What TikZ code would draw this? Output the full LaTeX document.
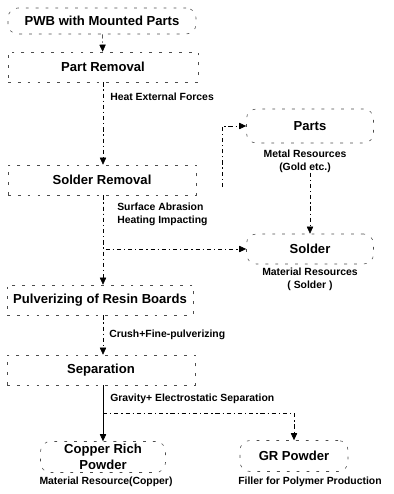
\documentclass[tikz,border=0pt]{standalone}
\usepackage{fontspec}
\setmainfont{Liberation Sans}
\usepackage{tikz}
\usetikzlibrary{arrows.meta}

\begin{document}
\begin{tikzpicture}[x=0.025cm,y=-0.025cm,
    box/.style={draw=black!70,dash pattern=on 2pt off 5pt,thin,inner sep=0pt,
      font=\fontsize{9.3}{11}\selectfont\bfseries},
    rbox/.style={box,rounded corners=7pt},
    note/.style={font=\fontsize{7.4}{9.4}\selectfont\bfseries,align=center,inner sep=0pt},
    flow/.style={draw=black,thin,dash pattern=on 3pt off 2pt on 1pt off 2pt,
      -{Triangle[length=5pt,width=4.5pt]}}]
            \useasboundingbox (0,0) rectangle (394,494);

            % process column
            \node[rbox,minimum width=188*0.025cm,minimum height=26*0.025cm] (pwb) at (102,21) {PWB with Mounted Parts};
            \node[box,minimum width=190*0.025cm,minimum height=30*0.025cm] (rem) at (103,67) {Part Removal};
            \node[box,minimum width=188*0.025cm,minimum height=30*0.025cm] (sold) at (102,180) {Solder Removal};
            \node[box,minimum width=186*0.025cm,minimum height=30*0.025cm] (pulv) at (100,300) {Pulverizing of Resin Boards};
            \node[box,minimum width=188*0.025cm,minimum height=30*0.025cm] (sep) at (101,370) {Separation};

            % recovered things
            \node[rbox,minimum width=127*0.025cm,minimum height=34*0.025cm] (parts) at (310,126) {Parts};
            \node[note] (partsnote) at (305,161) {Metal Resources\\(Gold etc.)};
            \node[rbox,minimum width=127*0.025cm,minimum height=30*0.025cm] (solder) at (310,249) {Solder};
            \node[note] (soldernote) at (310,279) {Material Resources\\( Solder )};
            \node[rbox,minimum width=125*0.025cm,minimum height=31*0.025cm,align=center,
              font=\fontsize{9.3}{11.5}\selectfont\bfseries] (cu) at (103,457) {Copper Rich\\Powder};
            \node[note] (cunote) at (106,482) {Material Resource(Copper)};
            \node[rbox,minimum width=108*0.025cm,minimum height=31*0.025cm] (gr) at (294,456) {GR Powder};
            \node[note] (grnote) at (310,482) {Filler for Polymer Production};

            % process labels
            \node[note,anchor=west] (heat) at (110,97) {Heat External Forces};
            \node[note,anchor=west,align=left] (abr) at (117,214) {Surface Abrasion\\Heating Impacting};
            \node[note,anchor=west] (crush) at (109,335) {Crush+Fine-pulverizing};
            \node[note,anchor=west] (grav) at (110,399) {Gravity+ Electrostatic Separation};

            \coordinate (brk) at (222,187);
            \coordinate (split) at (103,413);

            \draw[flow] (pwb) -- (rem);
            \draw[flow] (rem.south -| 103,0) -- (sold.north -| 103,0);
            \draw[flow] (brk) |- (parts.west);
            \draw[flow] (partsnote.south -| parts.south) -- (solder.north);
            \draw[flow] (sold.south -| 103,0) -- (pulv.north -| 103,0);
            \draw[flow] (sold.south -| 103,0) |- (solder.west);
            \draw[flow] (pulv.south -| 103,0) -- (sep.north -| 103,0);
            \draw[flow,solid] (sep.south -| cu.north) -- (cu.north);
            \draw[flow] (split) -| (gr.north);
\end{tikzpicture}
\end{document}
